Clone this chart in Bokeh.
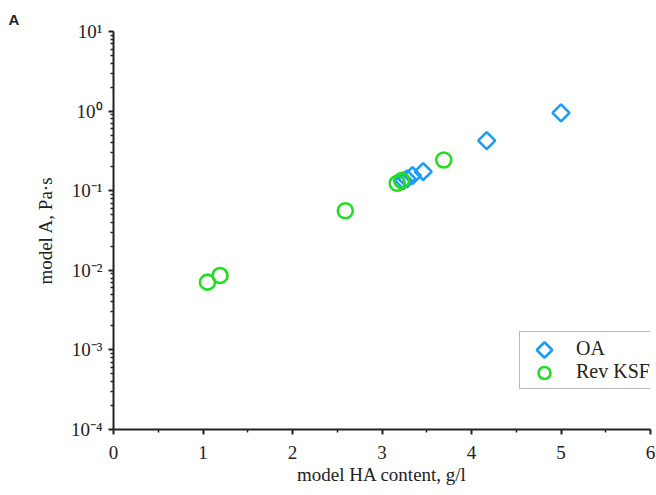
import math
from bokeh.plotting import figure
from bokeh.models import FixedTicker, Legend, LegendItem, Title, Range1d, LinearScale
from bokeh.embed import file_html
from bokeh.resources import INLINE

# data
oa_x = [5.0, 4.17, 3.46, 3.34, 3.28, 3.24]
oa_y = [0.95, 0.425, 0.174, 0.155, 0.141, 0.134]
ksf_x = [3.69, 3.22, 3.17, 2.59, 1.19, 1.05]
ksf_y = [0.243, 0.134, 0.124, 0.056, 0.0086, 0.0071]

x_ticks = [0, 1, 2, 3, 4, 5, 6]
y_exponents = [-4, -3, -2, -1, 0, 1]
sup = {"-": "\u207b", "0": "\u2070", "1": "\u00b9", "2": "\u00b2", "3": "\u00b3", "4": "\u2074"}
y_ticks = [10.0 ** e for e in y_exponents]
y_labels = ["10" + "".join(sup[c] for c in str(e)) for e in y_exponents]

FONT = "Liberation Serif"
BLUE = "#1c9cf6"
GREEN = "#22dd22"
TXT = "#222222"

# layout
W, H = 656, 495
BL, BR, BT, BB = 113, 6, 31, 66
FW, FH = W - BL - BR, H - BT - BB

p = figure(width=W, height=H, y_axis_type="log",
           x_range=(0, 6), y_range=(1e-4, 10),
           output_backend="svg", toolbar_location=None,
           min_border_left=BL, min_border_right=BR,
           min_border_top=BT, min_border_bottom=BB)
p.outline_line_color = None
p.grid.visible = False
p.background_fill_color = "white"
p.border_fill_color = "white"
p.extra_x_ranges = {"px": Range1d(0, FW)}
p.extra_y_ranges = {"px": Range1d(0, FH)}
p.extra_x_scales = {"px": LinearScale()}
p.extra_y_scales = {"px": LinearScale()}

r1 = p.scatter(oa_x, oa_y, marker="square", angle=math.pi / 4, size=12,
               fill_color=None, line_color=BLUE, line_width=2.6)
r2 = p.scatter(ksf_x, ksf_y, marker="circle", size=15,
               fill_color=None, line_color=GREEN, line_width=2.6)

xa = p.xaxis[0]
xa.ticker = FixedTicker(ticks=x_ticks,
                        minor_ticks=[t + 0.5 for t in x_ticks[:-1]])
ya = p.yaxis[0]
ya.ticker = FixedTicker(ticks=y_ticks,
                        minor_ticks=[m * t for t in y_ticks[:-1] for m in range(2, 10)])
ya.major_label_overrides = dict(zip(y_ticks, y_labels))

for ax in (xa, ya):
    ax.axis_line_width = 2
    ax.axis_line_color = TXT
    ax.major_tick_line_color = TXT
    ax.minor_tick_line_color = TXT
    ax.major_tick_line_width = 2
    ax.minor_tick_line_width = 1.5
    ax.major_tick_out = 5
    ax.major_tick_in = 0
    ax.minor_tick_out = 3
    ax.minor_tick_in = 0
    ax.major_label_text_font = FONT
    ax.major_label_text_font_size = "19px"
    ax.major_label_text_color = TXT
    ax.axis_label_text_font = FONT
    ax.axis_label_text_font_size = "19px"
    ax.axis_label_text_font_style = "normal"
    ax.axis_label_text_color = TXT

xa.axis_label = "model HA content, g/l"
xa.major_label_standoff = 11
xa.axis_label_standoff = 2
ya.axis_label = "model A, Pa\u00b7s"
ya.major_label_standoff = 6
ya.axis_label_standoff = 12

# legend (box and labels by Bokeh; keys drawn in frame-pixel coordinates)
LX, LY = 406, 40          # bottom-left of legend box, frame pixels
PAD, GW, GH = 5, 40, 23
dummy = p.scatter([], [], marker="circle", size=1, line_alpha=0, fill_alpha=0)
legend = Legend(items=[LegendItem(label="OA", renderers=[dummy]),
                       LegendItem(label="Rev KSF", renderers=[dummy])],
                location=(LX, LY))
legend.label_text_font = FONT
legend.label_text_font_size = "20px"
legend.label_text_color = TXT
legend.border_line_color = "#777777"
legend.border_line_width = 1.5
legend.padding = PAD
legend.spacing = 0
legend.margin = 0
legend.glyph_width = GW
legend.glyph_height = GH
legend.label_height = GH
legend.label_width = 74
legend.label_standoff = 11
legend.background_fill_alpha = 0.0
p.add_layout(legend, "center")

LH = 2 * PAD + 2 * GH
key_x = LX + PAD + GW / 2
p.scatter([key_x], [LY + LH - PAD - GH / 2], x_range_name="px", y_range_name="px",
          marker="square", angle=math.pi / 4, size=11,
          fill_color=None, line_color=BLUE, line_width=2.6)
p.scatter([key_x], [LY + PAD + GH / 2], x_range_name="px", y_range_name="px",
          marker="circle", size=12,
          fill_color=None, line_color=GREEN, line_width=2.6)

p.add_layout(Title(text="A", align="left", offset=-105, standoff=7,
                   text_font="Liberation Sans", text_font_style="bold",
                   text_font_size="15px", text_color=TXT), "above")

open("out.html", "w").write(file_html(p, INLINE))
